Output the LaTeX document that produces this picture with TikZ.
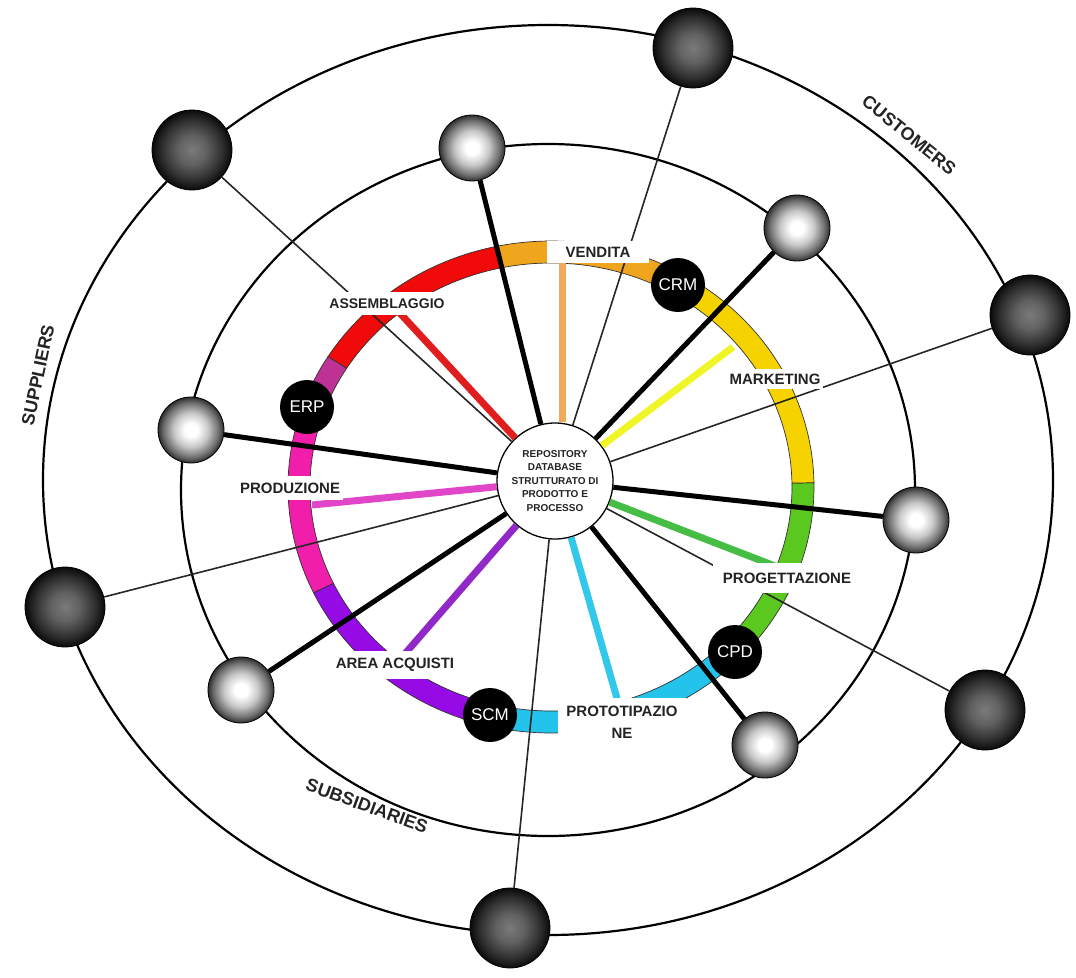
\documentclass[tikz,border=0pt]{standalone}
\usepackage{fontspec}
\setmainfont{Liberation Sans}
\definecolor{ringorange}{RGB}{240,165,30}
\definecolor{spokeorange}{RGB}{240,170,90}
\definecolor{ringred}{RGB}{240,10,10}
\definecolor{spokered}{RGB}{225,30,30}
\definecolor{ringdm}{RGB}{190,50,150}
\definecolor{ringpink}{RGB}{240,30,170}
\definecolor{spokepink}{RGB}{225,70,200}
\definecolor{ringpurple}{RGB}{150,10,230}
\definecolor{spokepurple}{RGB}{145,40,200}
\definecolor{ringcyan}{RGB}{35,195,235}
\definecolor{spokecyan}{RGB}{50,200,235}
\definecolor{ringgreen}{RGB}{90,200,30}
\definecolor{spokegreen}{RGB}{70,190,70}
\definecolor{ringyellow}{RGB}{245,210,0}
\definecolor{spokeyellow}{RGB}{240,245,40}
\definecolor{txt}{RGB}{35,35,35}
\pgfdeclareradialshading{midball}{\pgfpoint{0bp}{0bp}}{color(0bp)=(white); color(5bp)=(white); color(13bp)=(black!22); color(21bp)=(black!58); color(25bp)=(black!82); color(50bp)=(black!82)}
\pgfdeclareradialshading{outball}{\pgfpoint{0bp}{0bp}}{color(0bp)=(black!52); color(9bp)=(black!62); color(19bp)=(black!82); color(25bp)=(black!96); color(50bp)=(black!96)}
\newcommand\ringseg[3]{%
 \filldraw[fill=#1, draw=black!80, line width=0.7pt]
 plot[domain=#2:#3, samples=40] ({551+263*cos(\x)},{487-246*sin(\x)})
 -- plot[domain=#3:#2, samples=40] ({551+241*cos(\x)},{487-224*sin(\x)}) -- cycle;}
\begin{document}
\begin{tikzpicture}[x=1pt,y=-1pt,
  ell/.style={draw=black, line width=2.2pt},
  outsph/.style={circle, minimum size=80pt, inner sep=0pt, shading=outball, draw=black, line width=0.8pt},
  midsph/.style={circle, minimum size=66pt, inner sep=0pt, shading=midball, draw=black, line width=0.8pt},
  thinln/.style={draw=black!85, line width=1.6pt},
  thickln/.style={draw=black, line width=5pt},
  spoke/.style={line width=7pt},
  hub/.style={circle, draw=black, line width=1.3pt, fill=white, minimum size=116pt, inner sep=0pt, align=center, font=\fontsize{10}{13.5}\selectfont\bfseries, text=txt},
  sys/.style={circle, fill=black, minimum size=54pt, inner sep=0pt, text=white, font=\fontsize{17}{17}\selectfont},
  lbl/.style={fill=white, inner xsep=3pt, inner ysep=6pt, text=txt, font=\fontsize{15}{16}\selectfont\bfseries},
  grp/.style={text=txt, font=\fontsize{18}{18}\selectfont\bfseries}
]
\useasboundingbox (0,0) rectangle (1076,977);
% ellipses
\draw[ell] (548,480) ellipse [x radius=505, y radius=455];
\draw[ell] (548,490) ellipse [x radius=367, y radius=346];
% coloured ring
\ringseg{ringgreen}{-44}{1}
\ringseg{ringyellow}{1}{62}
\ringseg{ringorange}{58}{102}
\ringseg{ringred}{102}{148}
\ringseg{ringdm}{148}{162}
\ringseg{ringpink}{160}{205.5}
\ringseg{ringpurple}{205.5}{258}
\ringseg{ringcyan}{254}{316}
% hub
\node[hub] (C) at (555,481) {REPOSITORY\\DATABASE\\STRUTTURATO DI\\PRODOTTO E\\PROCESSO};
% spheres
\node[outsph] (o1) at (192,150) {};
\node[outsph] (o2) at (693,48) {};
\node[outsph] (o3) at (1030,315) {};
\node[outsph] (o4) at (985,710) {};
\node[outsph] (o5) at (510,928) {};
\node[outsph] (o6) at (65,607) {};
\node[midsph] (m1) at (472,148) {};
\node[midsph] (m2) at (797,228) {};
\node[midsph] (m3) at (191,430) {};
\node[midsph] (m4) at (916,520) {};
\node[midsph] (m5) at (241,690) {};
\node[midsph] (m6) at (765,745) {};
% coloured spokes
\coordinate (sO) at (562,258);
\coordinate (sR) at (397,310);
\coordinate (sP) at (312,505);
\coordinate (sV) at (403,656);
\coordinate (sC) at (618,702);
\coordinate (sG) at (775,566);
\coordinate (sY) at (733,347);
\draw[spoke, spokeorange] (sO) -- (sO |- C.north);
\draw[spoke, spokered] (sR) -- (C);
\draw[spoke, spokepink] (sP) -- (C);
\draw[spoke, spokepurple] (sV) -- (C);
\draw[spoke, spokecyan] (sC) -- (C);
\draw[spoke, spokegreen] (sG) -- (C);
\draw[spoke, spokeyellow] (sY) -- (C);
% thin lines to outer spheres
\foreach \n in {o1,o2,o3,o4,o5,o6} \draw[thinln] (\n) -- (C);
% thick lines to middle spheres
\foreach \n in {m1,m2,m3,m4,m5,m6} \draw[thickln] (\n) -- (C);
% systems
\node[sys] (erp) at (307,407) {ERP};
\node[sys] (crm) at (678,285) {CRM};
\node[sys] (cpd) at (735,652) {CPD};
\node[sys] (scm) at (490,715) {SCM};
% area labels
\node[lbl, inner xsep=19pt] (vendita) at (598,252) {VENDITA};
\node[lbl, font=\fontsize{14}{15}\selectfont\bfseries, inner ysep=6.5pt] (assembl) at (387,303.5) {ASSEMBLAGGIO};
\node[lbl, inner ysep=5pt] (mkt) at (775,379) {MARKETING};
\node[lbl, inner ysep=6.5pt] (prod) at (290,488) {PRODUZIONE};
\node[lbl, inner sep=10pt] (prog) at (787,578) {PROGETTAZIONE};
\node[lbl, inner ysep=7pt] (acq) at (395,665) {AREA ACQUISTI};
\node[lbl, align=center, inner xsep=8pt, inner ysep=8pt, font=\fontsize{15}{22}\selectfont\bfseries] (proto) at (622,722) {PROTOTIPAZIO\\NE};
% group labels
\node[grp, rotate=78] (sup) at (38,375) {SUPPLIERS};
\node[grp, rotate=-39] (cus) at (909,135) {CUSTOMERS};
\node[grp, rotate=-20] (sub) at (367,806) {SUBSIDIARIES};
\end{tikzpicture}
\end{document}
